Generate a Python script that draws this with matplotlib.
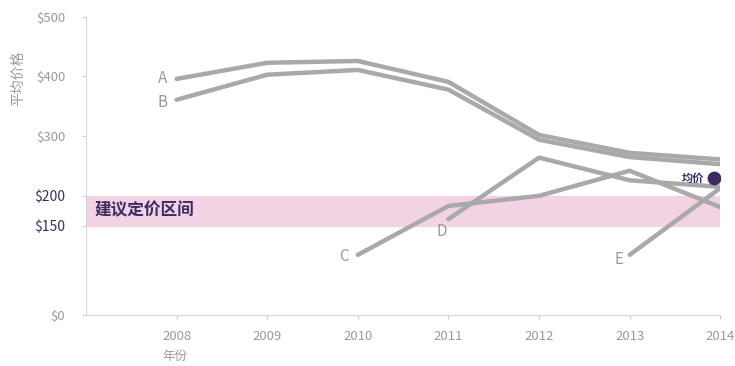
import matplotlib
matplotlib.use("Agg")
import matplotlib.pyplot as plt

plt.rcParams['font.family'] = ['Noto Sans CJK SC', 'DejaVu Sans']

years = [2008, 2009, 2010, 2011, 2012, 2013, 2014]
series_a = [396, 423, 426, 391, 302, 272, 261]
series_b = [361, 403, 411, 378, 294, 265, 253]
years_c = [2010, 2011, 2012, 2013, 2014]
series_c = [101, 183, 200, 242, 181]
years_d = [2011, 2012, 2013, 2014]
series_d = [161, 264, 226, 215]
years_e = [2013, 2014]
series_e = [101, 213]
avg_price = 230
band_low, band_high = 150, 200
y_ticks = [0, 150, 200, 300, 400, 500]
y_tick_labels = ['$0', '$150', '$200', '$300', '$400', '$500']

line_color = '#a9a9a9'
dark = '#3d2c63'
grey_text = '#9a9a9a'

fig = plt.figure(figsize=(7.35, 3.66), dpi=100)
ax = fig.add_axes([0.117, 0.139, 0.863, 0.815])

ax.axhspan(band_low, band_high, color='#f2d3e3', zorder=0)
ax.text(2007.1, 175, '建议定价区间', color=dark, fontsize=12, fontweight='bold',
        va='center', ha='left')

for xs, ys in [(years, series_a), (years, series_b), (years_c, series_c),
               (years_d, series_d), (years_e, series_e)]:
    ax.plot(xs, ys, color=line_color, lw=3.2, solid_capstyle='round', zorder=2)

ax.text(years[0] - 0.1, series_a[0], 'A', color=grey_text, fontsize=11, ha='right', va='center')
ax.text(years[0] - 0.1, series_b[0] - 5, 'B', color=grey_text, fontsize=11, ha='right', va='center')
ax.text(years_c[0] - 0.1, series_c[0] - 3, 'C', color=grey_text, fontsize=11, ha='right', va='center')
ax.text(years_d[0] - 0.02, series_d[0] - 20, 'D', color=grey_text, fontsize=11, ha='right', va='center')
ax.text(years_e[0] - 0.07, series_e[0] - 8, 'E', color=grey_text, fontsize=11, ha='right', va='center')

ax.scatter([2013.93], [avg_price], s=80, color=dark, zorder=3)
ax.text(2013.82, avg_price, '均价', color=dark, fontsize=8, fontweight='bold',
        ha='right', va='center')

ax.set_xlim(2007, 2014)
ax.set_ylim(0, 500)
ax.set_xticks(years)
ax.set_xticklabels([str(y) for y in years])
ax.set_yticks(y_ticks)
ax.set_yticklabels(y_tick_labels)
ax.tick_params(axis='both', colors='#cfcfcf', labelcolor=grey_text, labelsize=9.5, length=3)
ax.tick_params(axis='x', pad=8)
ax.tick_params(axis='y', pad=12)
for lbl, v in zip(ax.get_yticklabels(), y_ticks):
    if v in (150, 200):
        lbl.set_color(dark)
        lbl.set_fontsize(10)

for side in ['top', 'right']:
    ax.spines[side].set_visible(False)
for side in ['left', 'bottom']:
    ax.spines[side].set_color('#d8d8d8')
    ax.spines[side].set_linewidth(0.8)

fig.text(0.025, 0.785, '平均价格', rotation=90, color=grey_text, fontsize=10,
         ha='center', va='center')
fig.text(0.238, 0.025, '年份', color=grey_text, fontsize=9, ha='center', va='center')

fig.savefig('out.png', dpi=100)
